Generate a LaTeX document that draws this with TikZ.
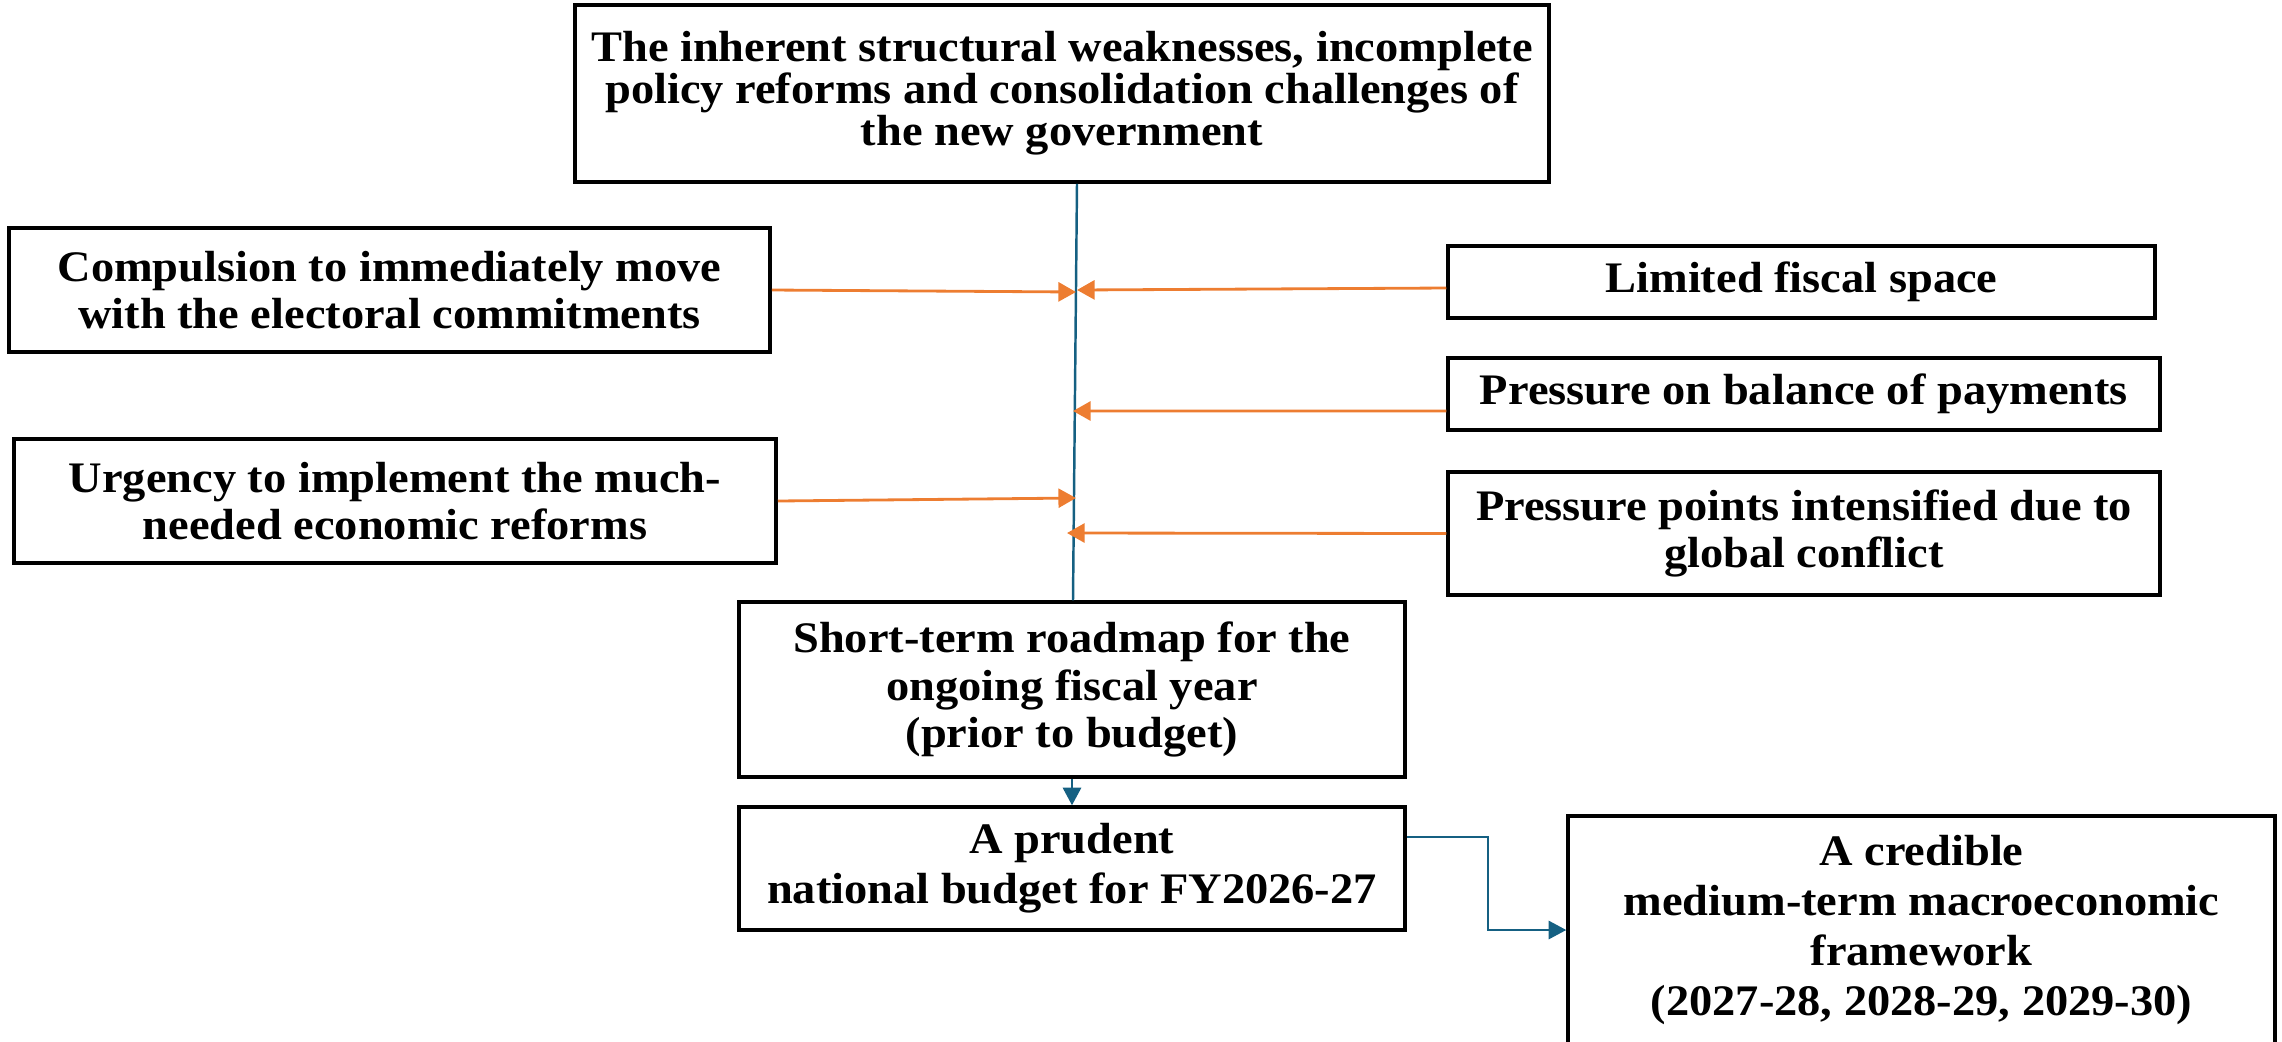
\documentclass[tikz,border=0pt]{standalone}
\usepackage{fontspec}
\setmainfont{Liberation Serif}[FakeStretch=1.065]
\usetikzlibrary{arrows.meta}
\definecolor{spineblue}{RGB}{21,96,130}
\definecolor{pushorange}{RGB}{237,125,49}
\begin{document}
\begin{tikzpicture}[
	box/.style={draw=black, line width=1pt, fill=white, inner sep=0pt, align=center,
		font=\fontsize{12.4}{13.6}\selectfont\bfseries},
	spine/.style={draw=spineblue, line width=0.7pt},
	flow/.style={draw=spineblue, line width=0.6pt, -{Triangle[length=5pt,width=5.2pt]}},
	push/.style={draw=pushorange, line width=0.8pt, -{Triangle[length=5pt,width=5.4pt]}}
	]
	\useasboundingbox (0,0) rectangle (22.82,-10.41);
	% top and the two left boxes
	\node[box, minimum width=9.74cm, minimum height=1.77cm, font=\fontsize{12.4}{11.9}\selectfont\bfseries] (top) at (10.62,-0.935) {The inherent structural weaknesses, incomplete\\policy reforms and consolidation challenges of\\the new government};
	\node[box, minimum width=7.61cm, minimum height=1.24cm] (comp) at (3.895,-2.90) {Compulsion to immediately move\\with the electoral commitments};
	\node[box, minimum width=7.62cm, minimum height=1.24cm] (urg) at (3.95,-5.01) {Urgency to implement the much-\\needed economic reforms};
	% right boxes
	\node[box, minimum width=7.07cm, minimum height=0.72cm] (lim) at (18.015,-2.82) {Limited fiscal space};
	\node[box, minimum width=7.12cm, minimum height=0.72cm] (bop) at (18.04,-3.94) {Pressure on balance of payments};
	\node[box, minimum width=7.12cm, minimum height=1.23cm] (ppts) at (18.04,-5.335) {Pressure points intensified due to\\global conflict};
	% lower boxes
	\node[box, minimum width=6.66cm, minimum height=1.75cm] (road) at (10.72,-6.895) {Short-term roadmap for the\\ongoing fiscal year\\(prior to budget)};
	\node[box, minimum width=6.66cm, minimum height=1.23cm, font=\fontsize{12.4}{14.2}\selectfont\bfseries] (prud) at (10.72,-8.685) {A prudent\\ national budget for FY2026-27};
	\node[box, minimum width=7.07cm, minimum height=2.28cm, font=\fontsize{12.4}{14.3}\selectfont\bfseries] (cred) at (19.215,-9.30) {A credible\\ medium-term macroeconomic\\framework\\(2027-28, 2028-29, 2029-30)};
	% points where the pressures meet the spine
	\coordinate (hitComp) at (10.76,-2.92);
	\coordinate (hitLim) at (10.77,-2.90);
	\coordinate (hitBop) at (10.73,-4.11);
	\coordinate (hitUrg) at (10.76,-4.98);
	\coordinate (hitPpts) at (10.67,-5.33);
	\draw[spine] ([xshift=1.5mm]top.south) -- ([xshift=0.1mm]road.north);
	\draw[push] (comp.east) -- (hitComp);
	\draw[push] ([yshift=-0.6mm]lim.west) -- (hitLim);
	\draw[push] ([yshift=-1.7mm]bop.west) -- (hitBop);
	\draw[push] (urg.east) -- (hitUrg);
	\draw[push] (ppts.west) -- (hitPpts);
	\draw[flow] (road.south) -- (prud.north);
	\draw[flow] ([yshift=3.15mm]prud.east) -- ++(0.81,0) |- (cred.west);
\end{tikzpicture}
\end{document}
